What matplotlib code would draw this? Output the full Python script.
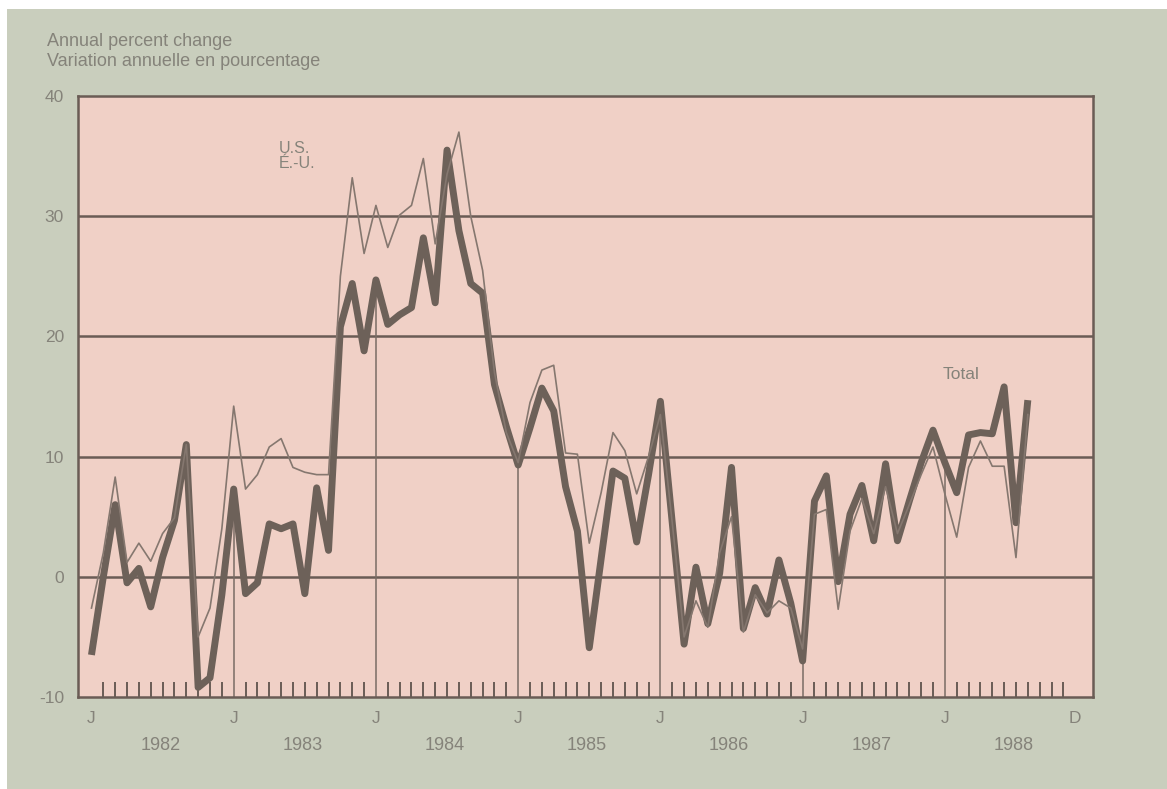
import matplotlib
matplotlib.use("Agg")
import matplotlib.pyplot as plt
from matplotlib.patches import Rectangle
import numpy as np

plt.rcParams['font.family'] = ['Liberation Sans', 'DejaVu Sans']

# monthly values, Jan 1982 onward
total = [-6.5, 0.0, 6.0, -0.5, 0.7, -2.5, 1.6, 4.7, 11.0, -9.2, -8.4, -1.5,
         7.3, -1.4, -0.5, 4.4, 4.0, 4.4, -1.4, 7.4, 2.2, 20.8, 24.4, 18.8,
         24.7, 21.0, 21.8, 22.4, 28.2, 22.8, 35.5, 28.8, 24.4, 23.6, 16.0, 12.5,
         9.3, 12.4, 15.7, 13.8, 7.5, 3.8, -5.9, 1.5, 8.8, 8.2, 2.9, 8.5,
         14.6, 4.5, -5.6, 0.8, -3.9, 0.3, 9.1, -4.3, -0.9, -3.1, 1.4, -2.2,
         -7.0, 6.3, 8.4, -0.4, 5.2, 7.6, 3.0, 9.4, 3.0, 6.3, 9.5, 12.2,
         9.5, 7.0, 11.8, 12.0, 11.9, 15.8, 4.5, 14.7]
us = [-2.6, 2.0, 8.3, 1.2, 2.8, 1.3, 3.6, 4.9, 11.0, -5.0, -2.6, 4.0,
      14.2, 7.3, 8.5, 10.8, 11.5, 9.1, 8.7, 8.5, 8.5, 25.0, 33.2, 26.9,
      30.9, 27.4, 30.1, 30.9, 34.8, 27.7, 33.5, 37.0, 30.0, 25.5, 17.0, 12.0,
      9.5, 14.5, 17.2, 17.6, 10.3, 10.2, 2.8, 7.0, 12.0, 10.5, 6.9, 10.0,
      13.5, 4.5, -5.0, -2.0, -4.2, 2.0, 5.0, -4.6, -1.5, -3.0, -2.0, -2.6,
      -6.0, 5.2, 5.6, -2.7, 3.8, 6.5, 3.6, 7.5, 3.6, 6.0, 8.5, 10.8,
      6.9, 3.3, 9.1, 11.3, 9.2, 9.2, 1.6, 13.5]
years = ["1982", "1983", "1984", "1985", "1986", "1987", "1988"]
yticks = [-10, 0, 10, 20, 30, 40]

bg = "#c9cebd"
pink = "#f0d0c6"
dark = "#6a5c55"
txt = "#85837a"

fig = plt.figure(figsize=(11.67, 7.89), dpi=100)
fig.patch.set_facecolor("white")
fig.patches.append(Rectangle((0.006, 0), 0.994, 0.988, transform=fig.transFigure,
                             facecolor=bg, edgecolor="none", zorder=-5))

ax = fig.add_axes([0.0668, 0.1166, 0.8698, 0.7617])
ax.set_facecolor(pink)

n_months = len(years) * 12
x = np.arange(len(total))
ax.set_xlim(-1.14, 84.5)
ax.set_ylim(-10, 40)

for v in yticks[1:-1]:
    ax.axhline(v, color=dark, lw=1.8, zorder=1)

jans = np.arange(0, n_months, 12)
ax.vlines(jans[1:], -10, [total[j] for j in jans[1:]], color="#7a6c65", lw=1.1, zorder=1)

ax.plot(x, us, color="#85776f", lw=1.2, zorder=3)
ax.plot(x, total, color="#6d6159", lw=5, zorder=2, solid_joinstyle="round",
        solid_capstyle="butt")

for s in ax.spines.values():
    s.set_color(dark)
    s.set_linewidth(1.8)

ax.set_yticks(yticks)
ax.set_yticklabels([str(v) for v in yticks])
ax.set_xticks(list(jans) + [n_months - 1])
ax.set_xticklabels(["J"] * len(jans) + ["D"])
ax.set_xticks(np.arange(n_months), minor=True)
ax.tick_params(axis="both", which="major", length=0, labelsize=12.5,
               labelcolor=txt, pad=10)
ax.tick_params(axis="y", pad=10)
ax.tick_params(axis="x", which="minor", direction="in", length=11,
               width=1.4, color=dark)

for k, yr in enumerate(years):
    ax.text(k * 12 + 5.8, -14.0, yr, ha="center", va="center",
            fontsize=13, color=txt)

ax.text(15.8, 35.0, "U.S.\nÉ.-U.", ha="left", va="center", fontsize=11.5,
        color=txt, linespacing=1.0)
ax.text(71.8, 16.8, "Total", ha="left", va="center", fontsize=12.5, color=txt)

fig.text(0.040, 0.948, "Annual percent change", fontsize=13, color=txt,
         va="center")
fig.text(0.040, 0.922, "Variation annuelle en pourcentage", fontsize=13,
         color=txt, va="center")

fig.savefig("out.png", dpi=100, facecolor=fig.get_facecolor())
